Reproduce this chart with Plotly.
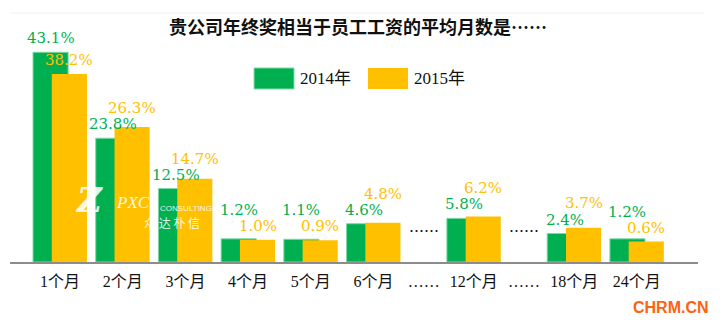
import plotly.graph_objects as go

# ---- data ----
categories = ["1个月", "2个月", "3个月", "4个月", "5个月", "6个月", "12个月", "18个月", "24个月"]
v2014 = [43.1, 23.8, 12.5, 1.2, 1.1, 4.6, 5.8, 2.4, 1.2]
v2015 = [38.2, 26.3, 14.7, 1.0, 0.9, 4.8, 6.2, 3.7, 0.6]
series_names = ["2014年", "2015年"]
title_text = "贵公司年终奖相当于员工工资的平均月数是……"
gap_label = "……"

# ---- layout helpers (category slot positions on the axis) ----
slots = [0, 1, 2, 3, 4, 5, 6.6, 8.2, 9.2]
gap_slots = [5.8, 7.4]

GREEN = "#00B050"
ORANGE = "#FFC000"
BASE = -4
YMAX = 48.1
PLOT_H = 232
PX_PER = PLOT_H / (YMAX - BASE)
BAR_W = 0.56
LBL_FONT = "DejaVu Serif"
LBL_SIZE = 15
LBL_H = 16
CJK = "Noto Sans CJK SC"

fig = go.Figure()
fig.add_trace(go.Bar(x=slots, y=[v - BASE for v in v2014], base=BASE, name=series_names[0],
                     marker=dict(color=GREEN, line=dict(color="#7fd8a7", width=1)),
                     width=BAR_W, offset=-0.43, showlegend=False, hoverinfo="skip"))
fig.add_trace(go.Bar(x=slots, y=[v - BASE for v in v2015], base=BASE, name=series_names[1],
                     marker=dict(color=ORANGE, line=dict(color=ORANGE, width=0)),
                     width=BAR_W, offset=-0.13, showlegend=False, hoverinfo="skip"))

# value labels drawn on top of all bars; the higher of two close labels is lifted
for s, a, b in zip(slots, v2014, v2015):
    d = (b - a) * PX_PER
    if d > 0:
        sa, sb = 3, max(3, 3 + LBL_H - d)
    else:
        sa, sb = max(3, 3 + LBL_H + d), 3
    fig.add_annotation(x=s - 0.15, y=a, text=f"{a:.1f}%", showarrow=False, xanchor="center",
                       yanchor="bottom", yshift=sa,
                       font=dict(family=LBL_FONT, size=LBL_SIZE, color=GREEN))
    fig.add_annotation(x=s + 0.15, y=b, text=f"{b:.1f}%", showarrow=False, xanchor="center",
                       yanchor="bottom", yshift=sb,
                       font=dict(family=LBL_FONT, size=LBL_SIZE, color=ORANGE))

fig.update_layout(
    width=722, height=326,
    margin=dict(l=10, r=24, t=30, b=64),
    paper_bgcolor="white", plot_bgcolor="white",
    barmode="overlay",
    title=dict(text=f"<b>{title_text}</b>", x=0.496, xanchor="center", y=1 - 28 / 326, yanchor="middle",
               font=dict(family=CJK, size=18, color="#111111")),
    xaxis=dict(range=[-0.797, 10.175], tickmode="array",
               tickvals=slots + gap_slots, ticktext=categories + [gap_label, gap_label],
               tickfont=dict(family="Liberation Serif, " + CJK, size=16, color="#111111"),
               showgrid=False, zeroline=False, showline=True, linecolor="#8c8c8c", linewidth=1.5,
               ticks="", ticklabelstandoff=4, fixedrange=True),
    yaxis=dict(range=[BASE, YMAX], visible=False, fixedrange=True),
    showlegend=False,
)

# legend drawn as swatches + text
fig.add_shape(type="rect", xref="paper", yref="paper", x0=0.3547, x1=0.4128, y0=0.7457, y1=0.8362,
              fillcolor=GREEN, line=dict(color="#7fd8a7", width=1))
fig.add_shape(type="rect", xref="paper", yref="paper", x0=0.5203, x1=0.5785, y0=0.7457, y1=0.8362,
              fillcolor=ORANGE, line=dict(width=0))
fig.add_annotation(xref="paper", yref="paper", x=0.4186, y=0.793, xanchor="left", yanchor="middle",
                   text=series_names[0], showarrow=False,
                   font=dict(family="Liberation Serif, " + CJK, size=17, color="#111111"))
fig.add_annotation(xref="paper", yref="paper", x=0.5843, y=0.793, xanchor="left", yanchor="middle",
                   text=series_names[1], showarrow=False,
                   font=dict(family="Liberation Serif, " + CJK, size=17, color="#111111"))

# dotted gap markers inside the plot
for g in gap_slots:
    fig.add_annotation(x=g, y=3.0, text=gap_label, showarrow=False, xanchor="center", yanchor="middle",
                       font=dict(family=CJK, size=15, color="#111111"))

# faint top border line
fig.add_shape(type="line", xref="paper", yref="paper", x0=0, x1=1.009, y0=1.073, y1=1.073,
              line=dict(color="#f0f0f0", width=1))

# watermark logo
W = "rgba(255,255,255,0.9)"
fig.add_annotation(xref="paper", yref="paper", x=0.0916, y=0.172, text="<b><i>Z</i></b>", showarrow=False,
                   font=dict(family="DejaVu Serif", size=34, color=W))
fig.add_annotation(xref="paper", yref="paper", x=0.151, y=0.207, text="<i>PXC</i>", showarrow=False,
                   font=dict(family="Liberation Serif", size=17, color=W))
fig.add_annotation(xref="paper", yref="paper", x=0.215, y=0.203, text="CONSULTING", showarrow=False,
                   font=dict(family="Liberation Sans", size=8, color=W))
fig.add_annotation(xref="paper", yref="paper", x=0.192, y=0.125, text="众 达 朴 信", showarrow=False,
                   font=dict(family=CJK, size=12, color=W))

# site mark
fig.add_annotation(xref="paper", yref="paper", x=0.961, y=-0.198, text="<b>CHRM.CN</b>", showarrow=False,
                   xanchor="center", yanchor="middle",
                   font=dict(family="Liberation Sans", size=16, color="#FF6310"))

fig.write_html("out.html")
